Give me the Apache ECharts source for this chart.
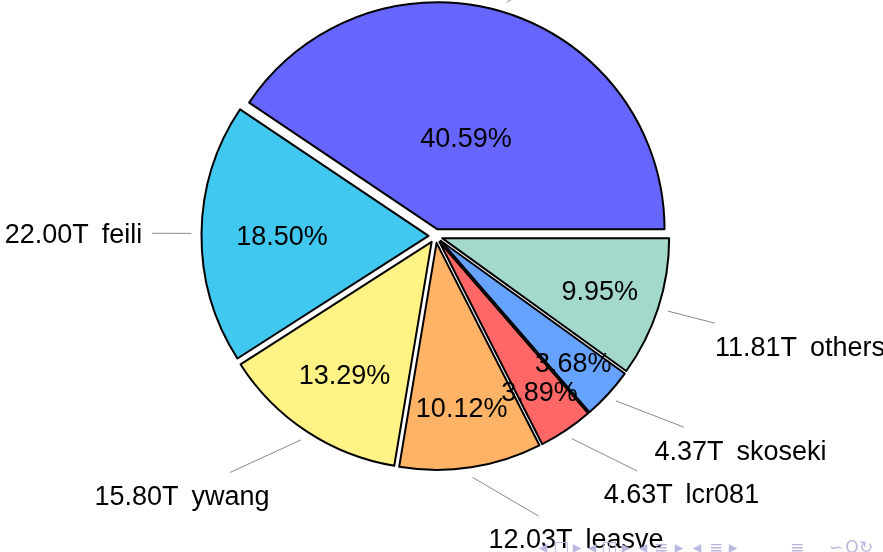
<!DOCTYPE html>
<html><head><meta charset="utf-8">
<script src="https://cdn.jsdelivr.net/npm/echarts@6/dist/echarts.min.js"></script>
<style>html,body{margin:0;padding:0;background:#fff}#c{width:883px;height:552px}</style>
</head><body><div id="c"></div>
<script>
// ---- data ----
const names    = ['user', 'feili', 'ywang', 'leasve', 'lcr081', 'skoseki', 'others'];
const percents = [40.59, 18.50, 13.29, 10.12, 3.89, 3.68, 9.95];
const amounts  = [48.26, 22.00, 15.80, 12.03, 4.63, 4.37, 11.81];

// ---- style ----
const colors = ['#6666FF', '#41C8F0', '#FFF385', '#FFB366', '#FF6666', '#66A3FF', '#A3D9CB'];
const CX = 435.5, CY = 236, R = 227, EXPLODE = 7;
const FONT = 'Liberation Sans';
const FS = 27;
const TEXT_DY = 3;

const total = percents.reduce((a, b) => a + b, 0);
function angles(i) {
  let s = 0; for (let j = 0; j < i; j++) s += percents[j];
  const a0 = s / total * 360, a1 = (s + percents[i]) / total * 360;
  return { mid: (a0 + a1) / 2, span: a1 - a0 };
}
function dirOf(i) { const m = angles(i).mid * Math.PI / 180; return [Math.cos(m), -Math.sin(m)]; }
function exCenter(i) { const d = dirOf(i); return [CX + EXPLODE * d[0], CY + EXPLODE * d[1]]; }

function clipEnter(P, C, left, top, w, h) {
  const right = left + w, bottom = top + h;
  let tx = 0, ty = 0;
  const dx = C[0] - P[0], dy = C[1] - P[1];
  if (P[0] < left && dx !== 0) tx = (left - P[0]) / dx;
  else if (P[0] > right && dx !== 0) tx = (right - P[0]) / dx;
  if (P[1] < top && dy !== 0) ty = (top - P[1]) / dy;
  else if (P[1] > bottom && dy !== 0) ty = (bottom - P[1]) / dy;
  const t = Math.max(tx, ty);
  return [P[0] + t * dx, P[1] + t * dy];
}

function outerLayout(p) {
  const i = p.dataIndex;
  const d = dirOf(i), c = exCenter(i);
  const P = [c[0] + R * 1.045 * d[0], c[1] + R * 1.045 * d[1]];
  const A = [c[0] + R * 1.217 * d[0], c[1] + R * 1.217 * d[1]];
  const w = p.labelRect.width, h = p.labelRect.height;
  const padX = 10, padT = 8, padB = 8;
  const nodeW = w + 2 * padX, nodeH = h + padT + padB;
  let left, top, align, vAlign, x, y;
  if (d[0] > 0.05) { left = A[0]; align = 'left'; x = A[0] + padX; }
  else if (d[0] < -0.05) { left = A[0] - nodeW; align = 'right'; x = A[0] - padX; }
  else { left = A[0] - nodeW / 2; align = 'center'; x = A[0]; }
  if (d[1] > 0.05) { top = A[1]; vAlign = 'top'; y = A[1] + padT; }
  else if (d[1] < -0.05) { top = A[1] - nodeH; vAlign = 'bottom'; y = A[1] - padB; }
  else { top = A[1] - nodeH / 2; vAlign = 'middle'; y = A[1]; }
  const nc = [left + nodeW / 2, top + nodeH / 2];
  const E = clipEnter(P, nc, left, top, nodeW, nodeH);
  return { x: x, y: y + TEXT_DY, align: align, verticalAlign: vAlign, hideOverlap: false, labelLinePoints: [P, E, E] };
}

function innerLayout(p) {
  const i = p.dataIndex;
  const d = dirOf(i), c = exCenter(i);
  const k = Math.max(0.3, 0.8 - 0.3 * Math.max(angles(i).span - 10, 0) / 110);
  return { x: c[0] + k * R * d[0], y: c[1] + k * R * d[1] + TEXT_DY, align: 'center', verticalAlign: 'middle', hideOverlap: false };
}

const base = { type: 'pie', center: [CX, CY], radius: [0, R], startAngle: 0, clockwise: false,
  avoidLabelOverlap: false, emphasis: { disabled: true } };

// beamer navigation symbols (decoration)
const navSyms = ['◂', '□', '▸', '◂', '◫', '▸', '◂', '≡', '▸', '◂', '≡', '▸', '≡', '∽', 'Q', '↻'];
const navX    = [543, 561, 577, 592, 609, 626, 643, 661, 679, 697, 716, 733, 797, 836, 852, 866];

const chart = echarts.init(document.getElementById('c'), null, { renderer: 'canvas' });
chart.setOption({
  animation: false,
  backgroundColor: '#fff',
  series: [
    Object.assign({}, base, {
      selectedMode: 'multiple', selectedOffset: EXPLODE,
      label: { show: false }, labelLine: { show: false },
      itemStyle: { borderColor: '#000', borderWidth: 2 },
      select: { itemStyle: { borderColor: '#000', borderWidth: 2 } },
      data: percents.map((v, i) => ({ name: names[i], value: v, selected: true, itemStyle: { color: colors[i] } }))
    }),
    Object.assign({}, base, {
      silent: true,
      itemStyle: { color: 'rgba(0,0,0,0)', borderWidth: 0 },
      label: { show: true, position: 'inside', color: '#000', fontFamily: FONT, fontSize: FS, lineHeight: 28,
        formatter: p => percents[p.dataIndex].toFixed(2) + '%' },
      labelLine: { show: false },
      labelLayout: innerLayout,
      data: percents.map((v, i) => ({ name: names[i], value: v }))
    }),
    Object.assign({}, base, {
      silent: true,
      itemStyle: { color: 'rgba(0,0,0,0)', borderWidth: 0 },
      label: { show: true, position: 'outside', color: '#000', fontFamily: FONT, fontSize: FS, lineHeight: 28,
        formatter: p => amounts[p.dataIndex].toFixed(2) + 'T\u2009 ' + names[p.dataIndex] },
      labelLine: { show: true, length: 20, length2: 0, smooth: false, lineStyle: { color: '#8a8a8a', width: 1 } },
      labelLayout: outerLayout,
      data: percents.map((v, i) => ({ name: names[i], value: v }))
    })
  ],
  graphic: navSyms.map((s, i) => ({
    type: 'text', x: navX[i], y: 549, silent: true, z: 100,
    style: { text: s, fill: '#b8b8e0', font: '17px "DejaVu Sans"', align: 'center', verticalAlign: 'middle' }
  }))
});
</script>
</body></html>
